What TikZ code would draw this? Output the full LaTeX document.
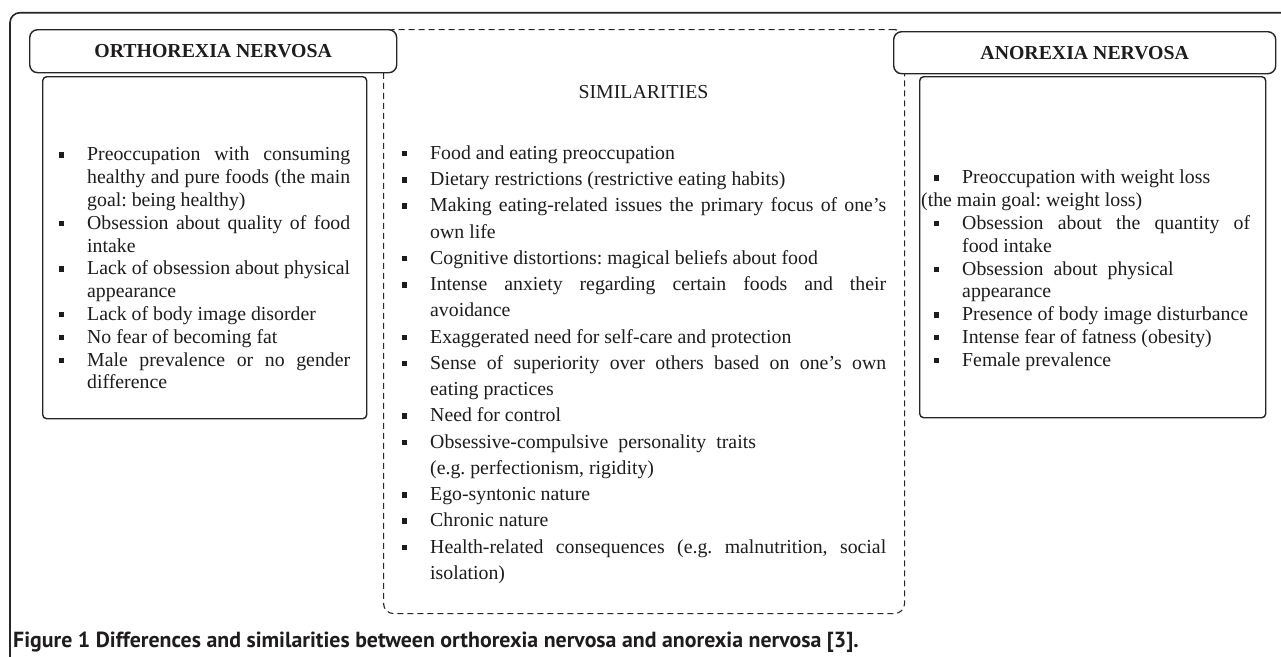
\documentclass[tikz,border=0pt]{standalone}
\usepackage{fontspec}
\setmainfont{Liberation Serif}
\newfontfamily\capfont{PT Sans}
\definecolor{linec}{HTML}{262626}
\definecolor{textc}{HTML}{1E1C1D}
\newcommand{\bitem}[1]{\par\hangindent=32pt\hangafter=1\noindent\makebox[32pt][l]{\hspace{3.5pt}\rule[3pt]{5.5pt}{5.5pt}}#1}
\frenchspacing
\begin{document}
\begin{tikzpicture}[x=1pt,y=-1pt,
  frame/.style={draw=linec, line width=1.6pt, rounded corners=10pt},
  hdr/.style={draw=linec, line width=1.4pt, rounded corners=8pt, fill=white, inner sep=0pt, anchor=north west, text=textc, font=\fontsize{19.8}{22.8}\selectfont\bfseries},
  cbox/.style={draw=linec, line width=1.4pt, rounded corners=4pt, inner sep=0pt, anchor=north west},
  dbox/.style={draw=linec, line width=1.1pt, dash pattern=on 6pt off 4pt, rounded corners=10pt, inner sep=0pt, anchor=north west},
  txt/.style={inner sep=0pt, anchor=base west, align=justify, text=textc, font=\frenchspacing\fontsize{19.8}{22.8}\selectfont},
  ctxt/.style={txt, font=\frenchspacing\fontsize{19.8}{26.25}\selectfont},
  ttl/.style={inner sep=0pt, anchor=base, text=textc, font=\fontsize{19.8}{22.8}\selectfont},
  capt/.style={inner sep=0pt, anchor=base west, text=textc, font=\capfont\bfseries\fontsize{21.85}{24}\selectfont}
]
\useasboundingbox (0,0) rectangle (1281,656);
\fill[white] (0,0) rectangle (1281,656);
\begin{scope}
  \clip (0,0) rectangle (1281,656);
  \draw[frame] (10,12.7) rectangle (1320,720);
\end{scope}
% similarities dashed box
\node[dbox, minimum width=521pt, minimum height=584pt] (simbox) at (383,29) {};
% headers
\node[hdr, minimum width=367pt, minimum height=43pt] (orthoH) at (29,29) {ORTHOREXIA NERVOSA};
\node[hdr, minimum width=382pt, minimum height=42pt] (anoH) at (893,31) {ANOREXIA NERVOSA};
% content boxes
\node[cbox, minimum width=324pt, minimum height=342pt] (orthoB) at (42,76) {};
\node[cbox, minimum width=346pt, minimum height=341pt] (anoB) at (919,76) {};
% left text
\node[txt, text width=295pt] (orthoT) at (55,138) {%
\bitem{Preoccupation with consuming\linebreak healthy and pure foods (the main\linebreak goal: being healthy)}
\bitem{Obsession about quality of food\linebreak intake}
\bitem{Lack of obsession about physical\linebreak appearance}
\bitem{Lack of body image disorder}
\bitem{No fear of becoming fat}
\bitem{Male prevalence or no gender\linebreak difference}\par};
% centre text
\node[ttl] (simT) at (643.5,98.5) {SIMILARITIES};
\node[ctxt, text width=488pt] (simL) at (398,133) {%
\bitem{Food and eating preoccupation}
\bitem{Dietary restrictions (restrictive eating habits)}
\bitem{Making eating-related issues the primary focus of one’s\linebreak own life}
\bitem{Cognitive distortions: magical beliefs about food}
\bitem{Intense anxiety regarding certain foods and their\linebreak avoidance}
\bitem{Exaggerated need for self-care and protection}
\bitem{Sense of superiority over others based on one’s own\linebreak eating practices}
\bitem{Need for control}
\bitem{Obsessive-compulsive\hspace{10pt}personality\hspace{10pt}traits\\(e.g. perfectionism, rigidity)}
\bitem{Ego-syntonic nature}
\bitem{Chronic nature}
\bitem{Health-related consequences (e.g. malnutrition, social\linebreak isolation)}\par};
% right text
\node[txt, text width=320pt] (anoT) at (930,161) {%
\bitem{Preoccupation with weight loss}
\par\noindent\hspace*{-9pt}(the main goal: weight loss)
\bitem{Obsession about the quantity of\linebreak food intake}
\bitem{Obsession\hspace{10pt}about\hspace{10pt}physical\\appearance}
\bitem{Presence of body image disturbance}
\bitem{Intense fear of fatness (obesity)}
\bitem{Female prevalence}\par};
% caption
\node[capt] (cap) at (13,647) {Figure 1 Differences and similarities between orthorexia nervosa and anorexia nervosa [3].};
\end{tikzpicture}
\end{document}
